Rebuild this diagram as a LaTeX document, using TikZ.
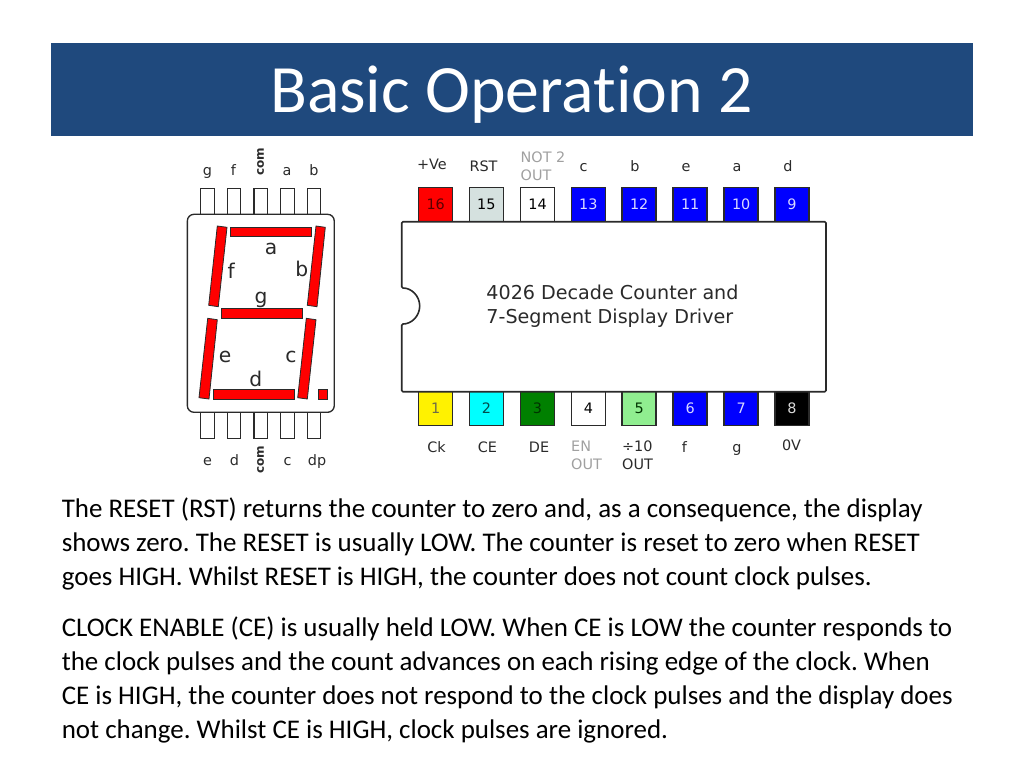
\documentclass[tikz,border=0pt]{standalone}
\usepackage{fontspec}
\setmainfont[Ligatures=NoCommon]{Carlito}
\newfontfamily\labelfont{DejaVu Sans}
\frenchspacing
\definecolor{headerblue}{HTML}{1F497D}
\definecolor{rstgrey}{HTML}{D5E1DF}
\definecolor{lightgreen}{HTML}{90EE90}
\definecolor{pincyan}{HTML}{00FFFF}
\definecolor{notused}{HTML}{A0A0A0}
\definecolor{edge}{HTML}{2A2A2A}
\tikzset{
	icpin/.style={draw=edge, line width=1.1pt, minimum width=25.5pt, minimum height=25.5pt, inner sep=0pt, font=\labelfont\fontsize{10.8}{12}\selectfont},
	ledpin/.style={draw=edge, line width=1pt, fill=white, minimum width=10.2pt, minimum height=19.5pt, inner sep=0pt},
	pinname/.style={anchor=base, inner sep=0pt, text=edge, font=\labelfont\fontsize{10.8}{12}\selectfont},
	pintwo/.style={inner sep=0pt, align=left, text=edge, font=\labelfont\fontsize{10.8}{13.5}\selectfont},
	comname/.style={inner sep=0pt, rotate=90, text=edge, font=\labelfont\bfseries\fontsize{9}{11}\selectfont},
	segname/.style={anchor=base, inner sep=0pt, text=edge, font=\labelfont\fontsize{15.2}{17}\selectfont},
	segment/.style={draw=edge, line width=0.6pt, fill=red},
	bodyline/.style={anchor=north west, inner sep=0pt, align=left, font=\fontsize{20.22}{25.5}\selectfont},
}

\begin{document}
\begin{tikzpicture}[x=0.75pt, y=-0.75pt]
	\useasboundingbox (0, 0) rectangle (1024, 768);
	% title bar
	\node[fill=headerblue, minimum width=691.5pt, minimum height=69.75pt, inner sep=0pt] (bar)at(512, 89) {};
	\node[text=white, anchor=base, inner sep=0pt, font=\fontsize{50.8}{54}\selectfont] (title)at(511.5, 112) {Basic Operation 2};
	% display pins
	\node[ledpin] (Tg)at(207.5, 201.5) {};
	\node[ledpin] (Tf)at(234, 201.5) {};
	\node[ledpin] (Tcom)at(260.8, 201.5) {};
	\node[ledpin] (Ta)at(287.5, 201.5) {};
	\node[ledpin] (Tb)at(314, 201.5) {};
	\node[ledpin] (Be)at(207.5, 425.3) {};
	\node[ledpin] (Bd)at(234, 425.3) {};
	\node[ledpin] (Bcom)at(260.8, 425.3) {};
	\node[ledpin] (Bc)at(287.5, 425.3) {};
	\node[ledpin] (Bdp)at(314, 425.3) {};
	\node[draw=edge, line width=1pt, fill=white, rounded corners=5pt, minimum width=110.2pt, minimum height=148.5pt, inner sep=0pt] (LED)at(260.8, 313.3) {};
	% display segments
	\draw[segment] (230, 227) -- (311.3, 227) -- (311.3, 236.7) -- (230, 236.7) -- cycle;
	\draw[segment] (221, 308.7) -- (302.7, 308.7) -- (302.7, 318.3) -- (221, 318.3) -- cycle;
	\draw[segment] (213.3, 389) -- (294.7, 389) -- (294.7, 399) -- (213.3, 399) -- cycle;
	\draw[segment] (217.3, 226) -- (227, 227.3) -- (218.3, 306.7) -- (208.7, 305.3) -- cycle;
	\draw[segment] (316, 226) -- (325.3, 227.3) -- (317, 306.7) -- (307.3, 305.3) -- cycle;
	\draw[segment] (207.7, 318.3) -- (217.3, 319.7) -- (209, 399) -- (199, 397.7) -- cycle;
	\draw[segment] (306.3, 318.3) -- (316, 319.7) -- (307.3, 399) -- (297.7, 397.7) -- cycle;
	\draw[segment] (318.3, 389) -- (327, 389) -- (327, 399) -- (318.3, 399) -- cycle;
	\node[segname] (La)at(271, 254) {a};
	\node[segname] (Lb)at(301.7, 276.7) {b};
	\node[segname] (Lc)at(291, 362.7) {c};
	\node[segname] (Ld)at(255.7, 386.7) {d};
	\node[segname] (Le)at(225, 362.7) {e};
	\node[segname] (Lf)at(231.3, 278.3) {f};
	\node[segname] (Lg)at(261, 303.3) {g};
	% display pin names
	\node[pinname] (Ng)at(207.5, 175) {g};
	\node[pinname] (Nf)at(233.5, 175) {f};
	\node[comname] (Ncom)at(260.5, 161.5) {com};
	\node[pinname] (Na)at(287, 175) {a};
	\node[pinname] (Nb)at(314, 175) {b};
	\node[pinname] (Ne)at(207.5, 465) {e};
	\node[pinname] (Nd)at(234.5, 465) {d};
	\node[comname] (Mcom)at(260.5, 459.5) {com};
	\node[pinname] (Nc)at(287.5, 465) {c};
	\node[pinname] (Ndp)at(317, 465) {dp};
	% chip pins
	\node[icpin, fill=red, text=red!35!black] (P16)at(435.7, 204.5) {16};
	\node[icpin, fill=rstgrey] (P15)at(486.4, 204.5) {15};
	\node[icpin, fill=white] (P14)at(537.5, 204.5) {14};
	\node[icpin, fill=blue, text=white!85!blue] (P13)at(588.4, 204.5) {13};
	\node[icpin, fill=blue, text=white!85!blue] (P12)at(639.2, 204.5) {12};
	\node[icpin, fill=blue, text=white!85!blue] (P11)at(690.2, 204.5) {11};
	\node[icpin, fill=blue, text=white!85!blue] (P10)at(741.2, 204.5) {10};
	\node[icpin, fill=blue, text=white!85!blue] (P9)at(792, 204.5) {9};
	\node[icpin, fill=yellow, text=yellow!35!black] (P1)at(435.7, 408.5) {1};
	\node[icpin, fill=pincyan, text=pincyan!30!black] (P2)at(486.4, 408.5) {2};
	\node[icpin, fill=green!50!black, text=green!20!black] (P3)at(537.5, 408.5) {3};
	\node[icpin, fill=white] (P4)at(588.4, 408.5) {4};
	\node[icpin, fill=lightgreen, text=green!20!black] (P5)at(639.2, 408.5) {5};
	\node[icpin, fill=blue, text=white!85!blue] (P6)at(690.2, 408.5) {6};
	\node[icpin, fill=blue, text=white!85!blue] (P7)at(741.2, 408.5) {7};
	\node[icpin, fill=black, text=white!85!black] (P8)at(792, 408.5) {8};
	% chip body
	\draw[draw=edge, line width=1.2pt, fill=white, rounded corners=1pt] (401.7, 221.7) -- (826, 221.7) -- (826, 391.7) -- (401.7, 391.7) -- (401.7, 324) arc[start angle=-90, end angle=90, radius=13.5pt] -- cycle;
	\node[inner sep=0pt, align=left, text=edge, font=\labelfont\fontsize{14.35}{18}\selectfont] (chip)at(612.5, 306) {4026 Decade Counter and\\7-Segment Display Driver};
	% chip pin names
	\node[pinname] (Nve)at(432, 169.5) {+Ve};
	\node[pinname] (Nrst)at(483.5, 171) {RST};
	\node[pintwo, text=notused] (Nnot)at(543, 166.5) {NOT 2\\OUT};
	\node[pinname] (N13)at(583.5, 171) {c};
	\node[pinname] (N12)at(635, 171) {b};
	\node[pinname] (N11)at(686, 171) {e};
	\node[pinname] (N10)at(737, 171) {a};
	\node[pinname] (N9)at(788, 171) {d};
	\node[pinname] (Nck)at(436.5, 452) {Ck};
	\node[pinname] (Nce)at(487.5, 452) {CE};
	\node[pinname] (Nde)at(539, 452) {DE};
	\node[pintwo, text=notused] (Nen)at(586.5, 455.5) {EN\\OUT};
	\node[pintwo] (Nten)at(637.5, 455.5) {÷10\\OUT};
	\node[pinname] (Nf2)at(684.5, 452) {f};
	\node[pinname] (Ng2)at(737, 452) {g};
	\node[pinname] (N0v)at(791.5, 450) {0V};
	% text below
	\node[bodyline] (para1)at(61.5, 498) {The RESET (RST) returns the counter to zero and, as a consequence, the display\\shows zero. The RESET is usually LOW. The counter is reset to zero when RESET\\goes HIGH. Whilst RESET is HIGH, the counter does not count clock pulses.};
	\node[bodyline] (para2)at(61.5, 617) {CLOCK ENABLE (CE) is usually held LOW. When CE is LOW the counter responds to\\the clock pulses and the count advances on each rising edge of the clock. When\\CE is HIGH, the counter does not respond to the clock pulses and the display does\\not change. Whilst CE is HIGH, clock pulses are ignored.};
\end{tikzpicture}
\end{document}
